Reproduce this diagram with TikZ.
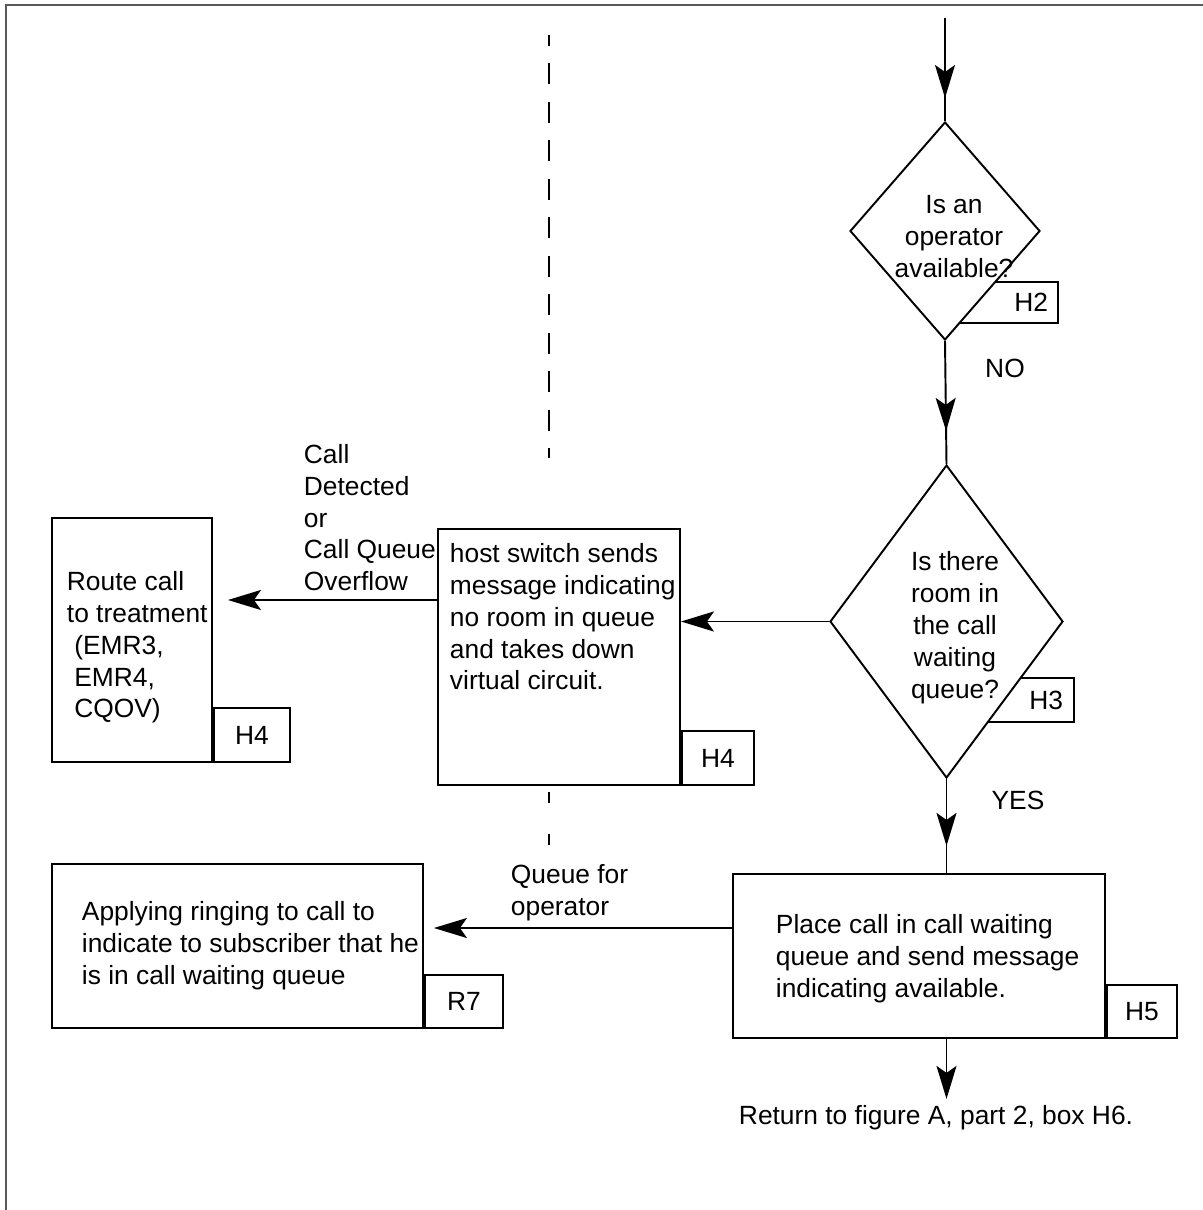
\documentclass[tikz,border=0pt]{standalone}
\usepackage{fontspec}
\setmainfont{Liberation Sans}
\usetikzlibrary{positioning,arrows.meta,shapes.geometric,decorations.markings}

\begin{document}
\begin{tikzpicture}[x=0.02cm, y=-0.02cm, line width=1.1pt,
    >={Stealth[length=0.66cm, width=0.4cm, inset=0.14cm]},
    every node/.style={font=\fontsize{15}{18.2}\selectfont},
    box/.style={draw, fill=white, inner sep=0pt},
    decision/.style={draw, fill=white, diamond, inner sep=0pt},
    tag/.style={draw, fill=white, inner sep=0pt, minimum height=1.08cm},
    txt/.style={align=left, inner sep=0pt, anchor=north west},
    midarr/.style={postaction={decorate}, decoration={markings, mark=at position #1 with {\arrow{>}}}},
    frame/.style={draw=black!65, line width=1.4pt},
    divider/.style={line width=1.3pt, dash pattern=on 0.42cm off 0.35cm, dash phase=0.2cm}
]
    \useasboundingbox (0,0) rectangle (1203,1210);

    % Page frame
    \draw[frame] (6,1210) -- (6,5) -- (1203,5);

    % Dashed divider
    \draw[divider] (549,35) -- (549,458);
    \draw[divider, dash pattern=on 0.22cm off 0.62cm, dash phase=0cm] (549,792) -- (549,845);

    % Tags behind the decisions
    \node[tag, minimum height=0.82cm, text width=1.56cm, inner xsep=0.2cm, align=right] (h2) at (1009,302.5) {H2};
    \node[tag, minimum height=0.88cm, text width=1.44cm, inner xsep=0.22cm, align=right] (h3) at (1027,700) {H3};

    % Decisions
    \node[decision, minimum width=3.8cm, minimum height=4.36cm] (opavail) at (945,231) {};
    \node[align=center, inner sep=0pt] at (954,237) {Is an\\operator\\available?};
    \node[decision, minimum width=4.66cm, minimum height=6.26cm] (room) at (946.5,621.5) {};
    \node[align=center, inner sep=0pt] at (955,628) {Is there\\room in\\the call\\waiting\\queue?};

    % Route call box
    \node[box, minimum width=3.2cm, minimum height=4.88cm] (route) at (132,640) {};
    \node[txt] at (66,570) {Route call\\to treatment\\\hspace*{0.28em}(EMR3,\\\hspace*{0.28em}EMR4,\\\hspace*{0.28em}CQOV)};
    \node[tag, minimum width=1.52cm, anchor=south west] at (route.south east) {H4};

    % Host switch box
    \node[box, minimum width=4.84cm, minimum height=5.12cm] (host) at (559,657) {};
    \node[txt] at (449,542) {host switch sends\\message indicating\\no room in queue\\and takes down\\virtual circuit.};
    \node[tag, minimum width=1.44cm, anchor=south west] at (host.south east) {H4};

    % Ringing box
    \node[box, minimum width=7.42cm, minimum height=3.28cm] (apply) at (237.5,946) {};
    \node[txt] at (81,900) {Applying ringing to call to\\indicate to subscriber that he\\is in call waiting queue};
    \node[tag, minimum width=1.56cm, minimum height=1.06cm, anchor=south west] at (apply.south east) {R7};

    % Queue box
    \node[box, minimum width=7.44cm, minimum height=3.28cm] (place) at (919,956) {};
    \node[txt] at (775,913) {Place call in call waiting\\queue and send message\\indicating available.};
    \node[tag, minimum width=1.4cm, minimum height=1.06cm, anchor=south west] at (place.south east) {H5};

    % Labels
    \node[txt] at (303,443) {Call\\Detected\\or\\Call Queue\\Overflow};
    \node[txt] at (510,863) {Queue for\\operator};
    \node (no) at (1005,368) {NO};
    \node (yes) at (1018,800) {YES};
    \node (ret) at (936,1118) {Return to figure A, part 2, box H6.};

    % Connectors
    \coordinate (start) at (945,18);
    \draw[midarr=1.6cm] (start) -- (opavail.north);
    \draw[midarr=1.8cm] (opavail.south) -- (room.north);
    \draw[->] (room.west) -- (room.west -| host.east);
    \draw[->, shorten >=0.3cm] (host.west |- 0,600) -- (route.east |- 0,600);
    \draw[midarr=1.34cm] (room.south) -- (room.south |- place.north);
    \draw[->, shorten >=0.2cm] (place.west |- 0,928) -- (apply.east |- 0,928);
    \draw[->] (room.south |- place.south) -- (room.south |- ret.north);

\end{tikzpicture}
\end{document}
